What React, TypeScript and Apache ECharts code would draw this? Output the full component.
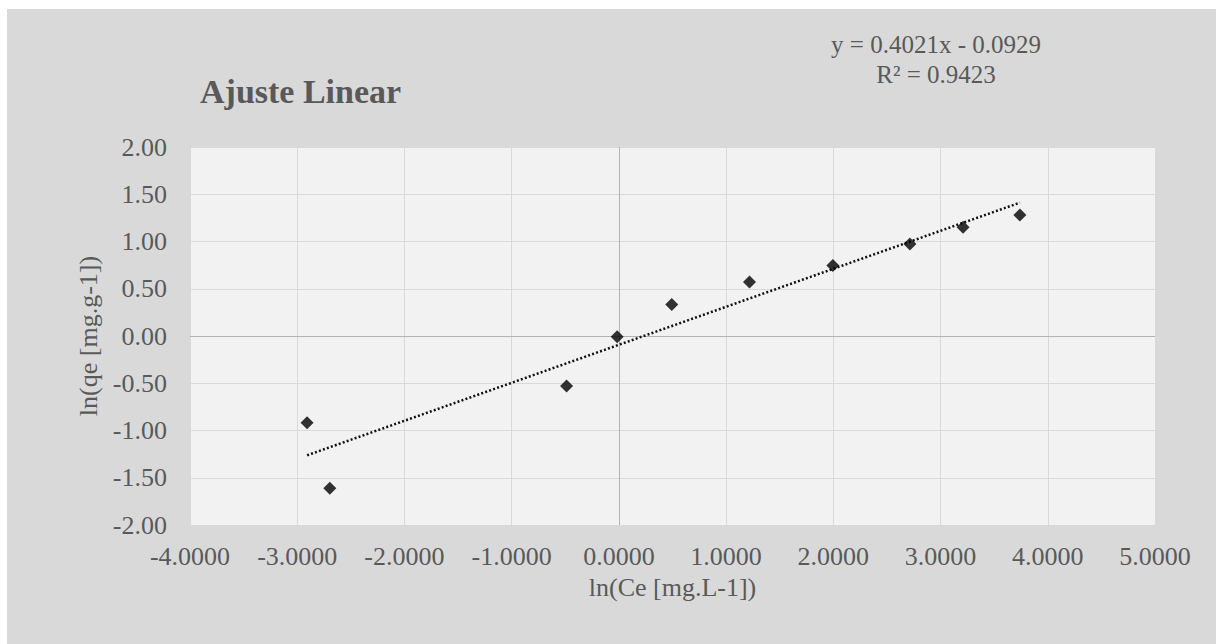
import React, { useEffect, useRef } from "react";
import * as echarts from "echarts";

const xValues = [-2.908, -2.696, -0.488, -0.016, 0.493, 1.218, 1.996, 2.714, 3.21, 3.74];
const yValues = [-0.917, -1.61, -0.53, -0.007, 0.333, 0.572, 0.747, 0.974, 1.15, 1.28];
const slope = 0.4021;
const intercept = -0.0929;
const equationLines = ["y = 0.4021x - 0.0929", "R² = 0.9423"];
const chartTitle = "Ajuste Linear";
const xName = "ln(Ce [mg.L-1])";
const yName = "ln(qe [mg.g-1])";

const FONT = "'Liberation Serif', 'Times New Roman', serif";
const TXT = "#595959";

export default function App() {
  const ref = useRef<HTMLDivElement>(null);
  useEffect(() => {
    if (!ref.current) return;
    const chart = echarts.init(ref.current, undefined, { renderer: "svg" });
    const pts = xValues.map((x, i) => [x, yValues[i]]);
    const xmin = Math.min(...xValues);
    const xmax = Math.max(...xValues);
    const trend = [
      [xmin, slope * xmin + intercept],
      [xmax, slope * xmax + intercept],
    ];
    chart.setOption({
      animation: false,
      backgroundColor: "#d9d9d9",
      grid: {
        left: 183,
        top: 138,
        right: 61,
        bottom: 119,
        show: true,
        backgroundColor: "#f2f2f2",
        borderWidth: 0,
      },
      graphic: [
        {
          type: "text",
          left: 193,
          top: 65,
          style: {
            text: chartTitle,
            font: `bold 34px ${FONT}`,
            fill: TXT,
          },
        },
        {
          type: "text",
          x: 929,
          y: 35,
          style: {
            text: equationLines[0],
            font: `25px ${FONT}`,
            fill: TXT,
            align: "center",
            verticalAlign: "middle",
          },
        },
        {
          type: "text",
          x: 929,
          y: 65,
          style: {
            text: equationLines[1],
            font: `25px ${FONT}`,
            fill: TXT,
            align: "center",
            verticalAlign: "middle",
          },
        },
      ],
      xAxis: {
        type: "value",
        min: -4,
        max: 5,
        interval: 1,
        name: xName,
        nameLocation: "middle",
        nameGap: 49,
        nameTextStyle: { fontFamily: FONT, fontSize: 26, color: TXT },
        axisLine: { show: false },
        axisTick: { show: false },
        axisLabel: {
          fontFamily: FONT,
          fontSize: 26,
          color: TXT,
          margin: 18,
          formatter: (v: number) => v.toFixed(4),
        },
        splitLine: { show: true, lineStyle: { color: "#d9d9d9", width: 1 } },
      },
      yAxis: {
        type: "value",
        min: -2,
        max: 2,
        interval: 0.5,
        name: yName,
        nameLocation: "middle",
        nameGap: 86,
        nameRotate: 90,
        nameTextStyle: { fontFamily: FONT, fontSize: 26, color: TXT },
        axisLine: { show: false },
        axisTick: { show: false },
        axisLabel: {
          fontFamily: FONT,
          fontSize: 26,
          color: TXT,
          margin: 23,
          formatter: (v: number) => v.toFixed(2),
        },
        splitLine: { show: true, lineStyle: { color: "#d9d9d9", width: 1 } },
      },
      series: [
        {
          type: "line",
          data: trend,
          showSymbol: false,
          symbol: "none",
          lineStyle: { color: "#111111", width: 2.5, type: [2, 2.2] },
          z: 3,
          markLine: {
            silent: true,
            symbol: "none",
            label: { show: false },
            lineStyle: { color: "#b3b3b3", width: 1, type: "solid" },
            data: [{ xAxis: 0 }, { yAxis: 0 }],
            z: 1,
          },
        },
        {
          type: "scatter",
          data: pts,
          symbol: "diamond",
          symbolSize: 13,
          itemStyle: { color: "#000000" },
          z: 4,
        },
      ],
    });
    return () => chart.dispose();
  }, []);
  return (
    <div
      ref={ref}
      style={{ position: "absolute", left: 7, top: 9, width: 1209, height: 635 }}
    />
  );
}
